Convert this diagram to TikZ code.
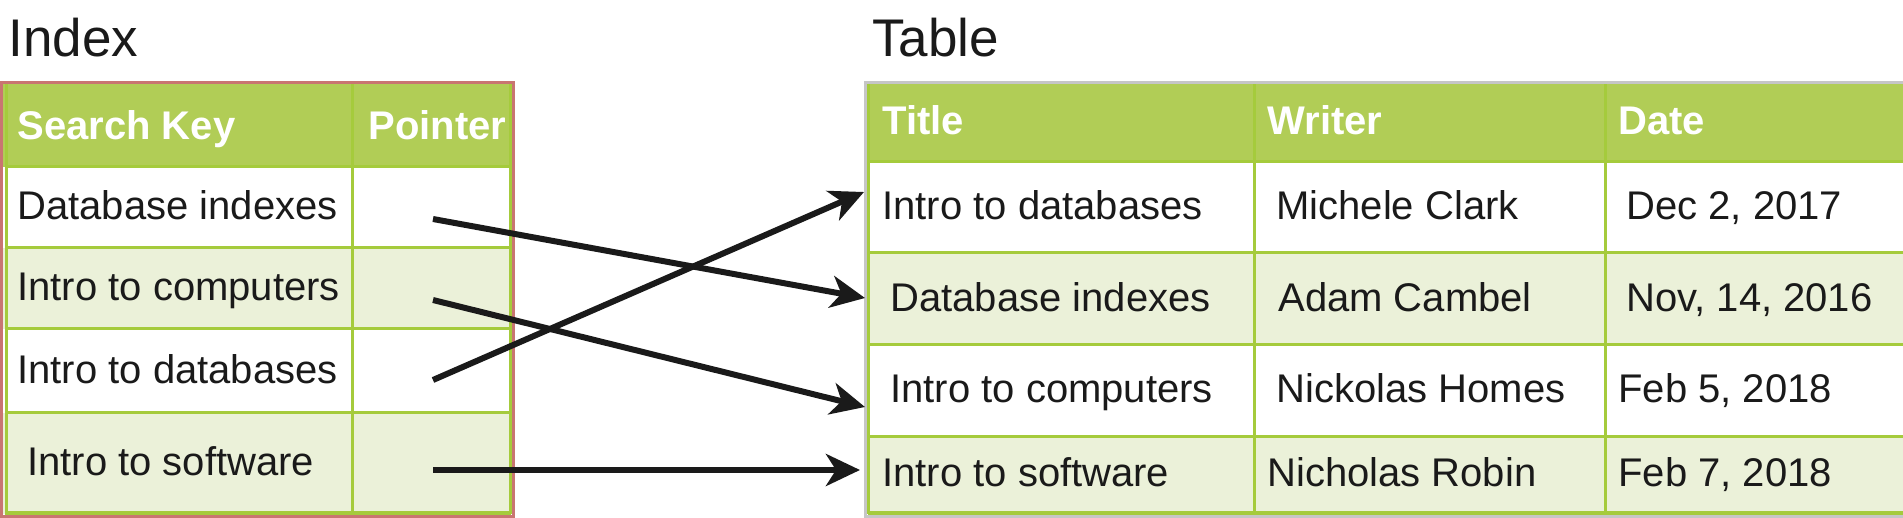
\documentclass[tikz,border=0pt]{standalone}
\usepackage{fontspec}
\setmainfont{Liberation Sans}
\usetikzlibrary{arrows.meta}
\definecolor{hdr}{HTML}{B1CD56}
\definecolor{gridc}{HTML}{A5CB3C}
\definecolor{lite}{HTML}{EBF1D9}
\definecolor{redb}{HTML}{C97571}
\definecolor{grayb}{HTML}{C6C6C6}
\definecolor{ink}{HTML}{1A1A1A}
\begin{document}
\begin{tikzpicture}[x=0.5pt,y=-0.5pt,
  cell/.style={anchor=base west,inner sep=0pt,font=\fontsize{20pt}{24pt}\selectfont,text=ink},
  head/.style={anchor=base west,inner sep=0pt,font=\fontsize{20pt}{24pt}\selectfont\bfseries,text=white},
  ttl/.style={anchor=base west,inner sep=0pt,font=\fontsize{26.5pt}{30pt}\selectfont,text=ink},
  gridline/.style={draw=gridc,line width=1.5pt},
  ptr/.style={draw=ink,line width=3pt,-{Stealth[length=17pt,width=16pt,inset=5pt]}}]
\useasboundingbox (0,0) rectangle (1903,518);
% titles
\node[ttl] (tindex) at (8,57) {Index};
\node[ttl] (ttable) at (872,57) {Table};
% ---------- left table ----------
\fill[hdr]   (3,84)  rectangle (512,167);
\fill[white] (3,167) rectangle (512,248);
\fill[lite]  (3,248) rectangle (512,329);
\fill[white] (3,329) rectangle (512,413);
\fill[lite]  (3,413) rectangle (512,514);
\foreach \yy in {167,248,329,413,513} \draw[gridline] (5,\yy) -- (511,\yy);
\draw[gridline] (352,84) -- (352,514);
\draw[gridline] (6,84) -- (6,514);
\draw[gridline] (510,84) -- (510,514);
\draw[redb,line width=1.5pt] (1.5,83) rectangle (513.5,516);
\node[head] (lh1) at (17,140) {Search Key};
\node[head] (lh2) at (368,140) {Pointer};
\node[cell] (l1) at (17,220) {Database indexes};
\node[cell] (l2) at (17,301) {Intro to computers};
\node[cell] (l3) at (17,384) {Intro to databases};
\node[cell] (l4) at (27,476) {Intro to software};
% ---------- right table ----------
\fill[hdr]   (866,84)  rectangle (1903,162);
\fill[white] (866,162) rectangle (1903,253);
\fill[lite]  (866,253) rectangle (1903,345);
\fill[white] (866,345) rectangle (1903,437);
\fill[lite]  (866,437) rectangle (1903,514);
\foreach \yy in {162,253,345,437,513} \draw[gridline] (868,\yy) -- (1903,\yy);
\foreach \xx in {868,1254,1605} \draw[gridline] (\xx,84) -- (\xx,514);
\draw[grayb,line width=1.5pt] (1903,83) -- (865,83) -- (865,516) -- (1903,516);
\node[head] (rh1) at (882,135) {Title};
\node[head] (rh2) at (1267,135) {Writer};
\node[head] (rh3) at (1618,135) {Date};
\node[cell] (r1a) at (882,220) {Intro to databases};
\node[cell] (r1b) at (1276,220) {Michele Clark};
\node[cell] (r1c) at (1626,220) {Dec 2, 2017};
\node[cell] (r2a) at (890,312) {Database indexes};
\node[cell] (r2b) at (1278,312) {Adam Cambel};
\node[cell] (r2c) at (1626,312) {Nov, 14, 2016};
\node[cell] (r3a) at (890,403) {Intro to computers};
\node[cell] (r3b) at (1276,403) {Nickolas Homes};
\node[cell] (r3c) at (1618,403) {Feb 5, 2018};
\node[cell] (r4a) at (882,487) {Intro to software};
\node[cell] (r4b) at (1267,487) {Nicholas Robin};
\node[cell] (r4c) at (1618,487) {Feb 7, 2018};
% ---------- pointers ----------
\coordinate (s1) at (433,219); \coordinate (e1) at (865,298);
\coordinate (s2) at (433,300); \coordinate (e2) at (865,407);
\coordinate (s3) at (433,380); \coordinate (e3) at (864,192);
\coordinate (s4) at (433,470); \coordinate (e4) at (860,470);
\draw[ptr] (s1) -- (e1);
\draw[ptr] (s2) -- (e2);
\draw[ptr] (s3) -- (e3);
\draw[ptr] (s4) -- (e4);
\end{tikzpicture}
\end{document}
